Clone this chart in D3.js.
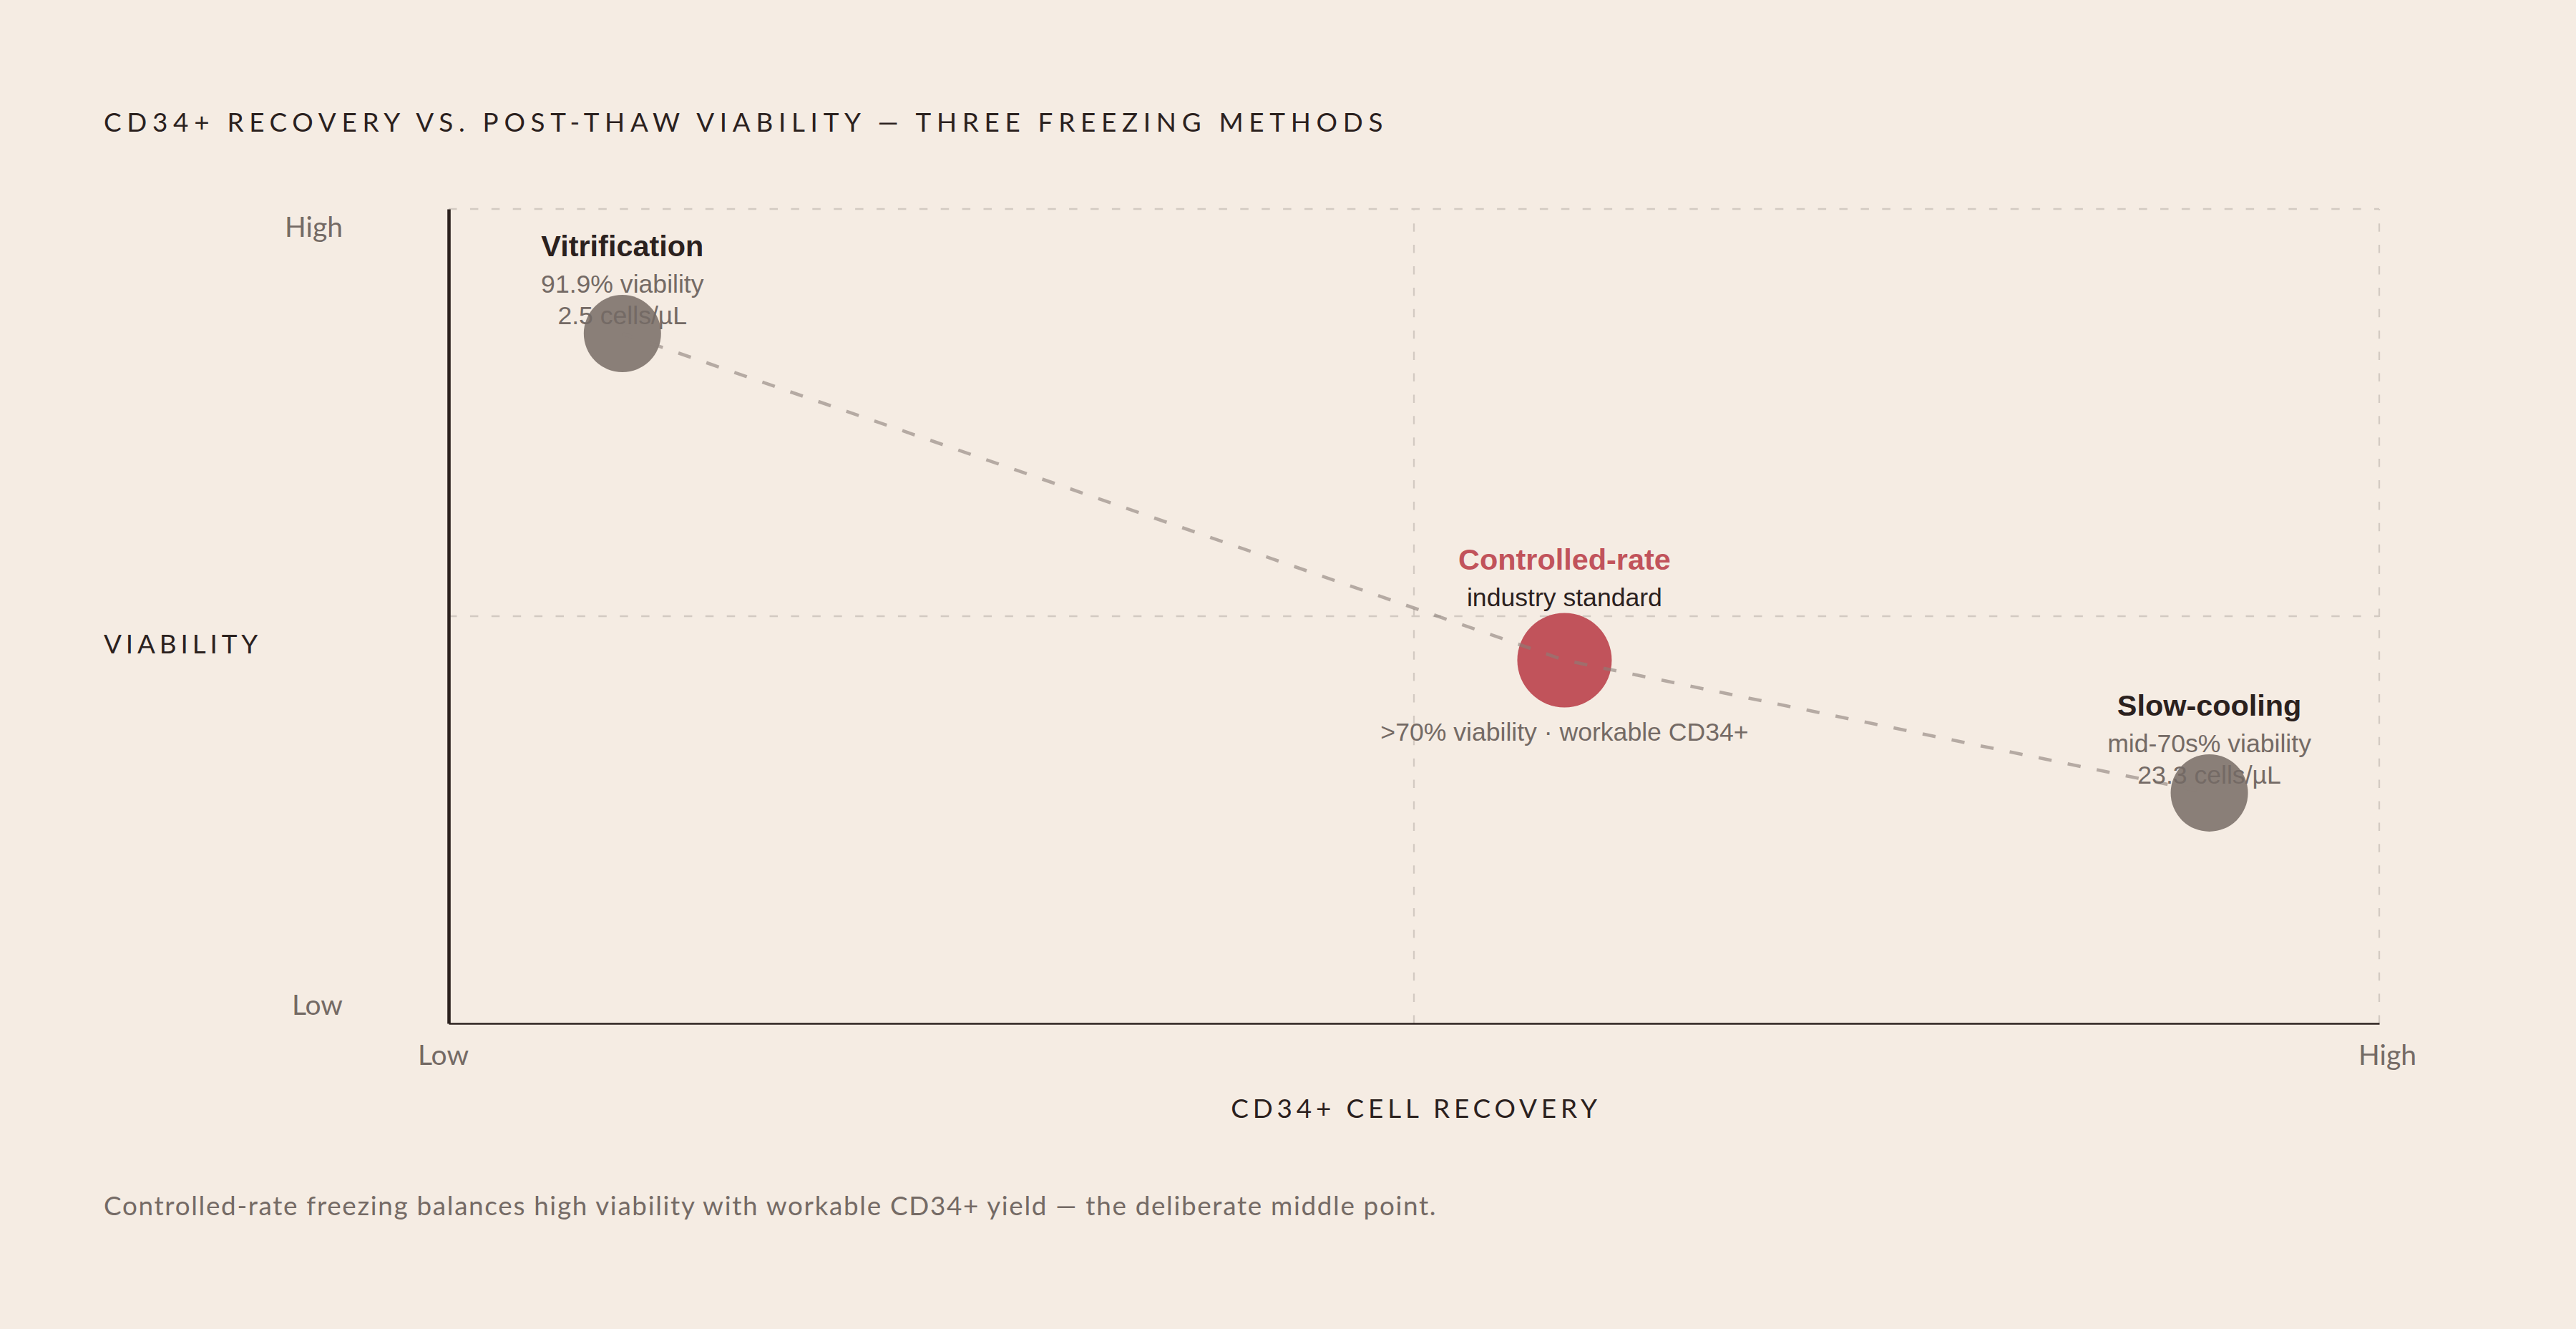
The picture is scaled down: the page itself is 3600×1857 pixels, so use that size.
<!DOCTYPE html>
<html>
<head>
<meta charset="utf-8">
<script src="https://cdn.jsdelivr.net/npm/d3@7"></script>
<style>
  html, body { margin: 0; padding: 0; background: #f5ece3; }
  svg { display: block; }
</style>
</head>
<body>
<svg id="chart"></svg>
<script>
// data (positions are relative, Low = 0 .. High = 1)
const methods = ["Vitrification", "Controlled-rate", "Slow-cooling"];
const recovery = [0.09, 0.578, 0.912];
const viability = [0.847, 0.446, 0.283];
const notesAbove = [["91.9% viability", "2.5 cells/µL"], ["industry standard"], ["mid-70s% viability", "23.3 cells/µL"]];
const notesBelow = ["", ">70% viability · workable CD34+", ""];
const highlight = [false, true, false];
const xTicks = ["Low", "High"];
const yTicks = ["Low", "High"];

const W = 3600, H = 1857;
const margin = { top: 292, right: 275, bottom: 427, left: 627 };

const INK = "#2b211e", MUTED = "#746a65", GRID = "#d3cac2";
const RED = "#c1535b", STONE = "#8a7f78";
const labelFont = "'Liberation Sans', Arial, sans-serif";

const svg = d3.select("#chart")
    .attr("width", W)
    .attr("height", H)
    .style("font-family", "Lato, sans-serif");

const x = d3.scaleLinear()
    .domain([0, 1])
    .range([margin.left, W - margin.right]);

const y = d3.scaleLinear()
    .domain([0, 1])
    .range([H - margin.bottom, margin.top]);

const points = methods.map((m, i) => ({
    name: m,
    x: recovery[i],
    y: viability[i],
    above: notesAbove[i],
    below: notesBelow[i],
    hi: highlight[i]
}));

// quadrant grid
const grid = svg.append("g")
    .attr("stroke", GRID)
    .attr("stroke-width", 2.3)
    .attr("stroke-dasharray", "11.5 18.4");

grid.selectAll(".hgrid")
    .data([0.5, 1])
    .join("line")
    .attr("x1", x(0)).attr("x2", x(1))
    .attr("y1", d => y(d)).attr("y2", d => y(d));

grid.selectAll(".vgrid")
    .data([0.5, 1])
    .join("line")
    .attr("y1", y(0)).attr("y2", y(1))
    .attr("x1", d => x(d)).attr("x2", d => x(d));

// axes
const xAxis = d3.axisBottom(x)
    .tickValues([0, 1])
    .tickFormat((d, i) => xTicks[i])
    .tickSize(0);

const yAxis = d3.axisLeft(y)
    .tickValues([0, 1])
    .tickFormat((d, i) => yTicks[i])
    .tickSize(0)
    .tickPadding(148);

const gx = svg.append("g")
    .attr("transform", `translate(0, ${y(0)})`)
    .call(xAxis);
gx.select(".domain").attr("stroke", INK).attr("stroke-width", 2.3);
gx.selectAll("text")
    .attr("font-family", "Lato, sans-serif")
    .attr("font-size", 39)
    .attr("fill", MUTED)
    .attr("dy", null)
    .attr("y", 58)
    .attr("x", d => d ? 11 : -8);

const gy = svg.append("g")
    .attr("transform", `translate(${x(0)}, 0)`)
    .call(yAxis);
gy.select(".domain").attr("stroke", INK).attr("stroke-width", 4.6);
gy.selectAll("text")
    .attr("font-family", "Lato, sans-serif")
    .attr("font-size", 39)
    .attr("fill", MUTED)
    .attr("dy", null)
    .attr("y", d => d ? 38.5 : -13);

// bubbles
const r = d => d.hi ? 66 : 54;

svg.append("g")
    .selectAll("circle")
    .data(points)
    .join("circle")
    .attr("cx", d => x(d.x))
    .attr("cy", d => y(d.y))
    .attr("r", r)
    .attr("fill", d => d.hi ? RED : STONE);

// trade-off path
const line = d3.line()
    .x(d => x(d.x))
    .y(d => y(d.y));

svg.append("path")
    .datum(points)
    .attr("d", line)
    .attr("fill", "none")
    .attr("stroke", STONE)
    .attr("stroke-opacity", 0.6)
    .attr("stroke-width", 4.6)
    .attr("stroke-dasharray", "18.4 23");

// labels
const labels = svg.append("g")
    .attr("font-family", labelFont)
    .attr("text-anchor", "middle");

points.forEach(p => {
    const cx = x(p.x), cy = y(p.y), rr = r(p);
    const top = p.hi ? cy - rr - 60 : cy - rr - 54;
    labels.append("text")
        .attr("x", cx).attr("y", top)
        .attr("font-size", 41.4)
        .attr("font-weight", 700)
        .attr("fill", p.hi ? RED : INK)
        .text(p.name);
    p.above.forEach((t, j) => {
        labels.append("text")
            .attr("x", cx).attr("y", top + 51 + j * 44)
            .attr("font-size", 35.6)
            .attr("fill", p.hi ? INK : MUTED)
            .text(t);
    });
    if (p.below) {
        labels.append("text")
            .attr("x", cx).attr("y", cy + rr + 47)
            .attr("font-size", 35.6)
            .attr("fill", MUTED)
            .text(p.below);
    }
});

// titles
svg.append("text")
    .attr("x", 145).attr("y", 184)
    .attr("font-size", 36.8)
    .attr("letter-spacing", "0.21em")
    .attr("fill", INK)
    .text("CD34+ Recovery vs. Post-thaw Viability — Three Freezing Methods".toUpperCase());

svg.append("text")
    .attr("x", 145).attr("y", 913)
    .attr("font-size", 36.8)
    .attr("letter-spacing", "0.16em")
    .attr("fill", INK)
    .text("VIABILITY");

svg.append("text")
    .attr("x", x(0.5) + 3).attr("y", 1562)
    .attr("text-anchor", "middle")
    .attr("font-size", 36.8)
    .attr("letter-spacing", "0.16em")
    .attr("fill", INK)
    .text("CD34+ CELL RECOVERY");

svg.append("text")
    .attr("x", 145).attr("y", 1698)
    .attr("font-size", 36.8)
    .attr("letter-spacing", "0.046em")
    .attr("fill", MUTED)
    .text("Controlled-rate freezing balances high viability with workable CD34+ yield — the deliberate middle point.");
</script>
</body>
</html>
